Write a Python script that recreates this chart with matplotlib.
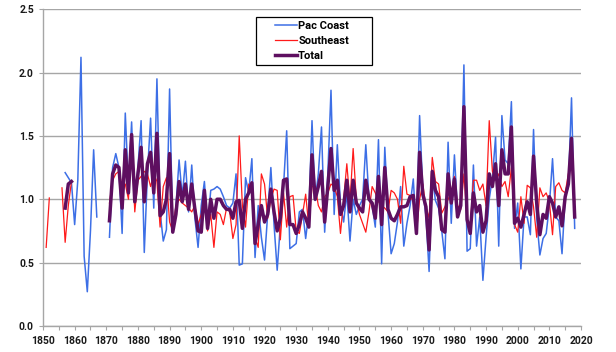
import numpy as np
import matplotlib
matplotlib.use("Agg")
import matplotlib.pyplot as plt
from matplotlib.patches import Rectangle
from matplotlib.ticker import MultipleLocator, FormatStrFormatter

nan = np.nan

# years 1850..2018
years = np.arange(1850, 2019)

pac_coast = [
    nan, nan, nan, nan, nan, nan, nan, 1.21, 1.17, 1.13,            # 1850s
    0.80, 1.15, 2.12, 0.55, 0.27, 0.75, 1.39, 0.86, nan, nan,       # 1860s
    nan, 0.70, 1.25, 1.36, 1.25, 0.73, 1.68, 1.10, 1.61, 0.95,      # 1870s
    1.25, 1.62, 0.58, 1.20, 1.64, 0.93, 1.95, 0.90, 0.67, 0.76,     # 1880s
    1.87, 0.74, 0.94, 1.31, 1.02, 1.30, 0.90, 1.27, 0.85, 0.62,     # 1890s
    0.95, 1.14, 0.78, 1.07, 1.08, 1.10, 1.08, 1.02, 0.95, 0.93,     # 1900s
    0.97, 1.20, 0.48, 0.49, 1.17, 1.05, 1.32, 0.54, 0.95, 0.70,     # 1910s
    0.52, 0.88, 1.25, 0.80, 0.44, 0.80, 1.10, 1.54, 0.61, 0.63,     # 1920s
    0.65, 0.90, 0.92, 0.69, 0.90, 1.62, 0.99, 1.20, 1.57, 0.74,     # 1930s
    1.20, 1.86, 0.88, 1.43, 0.95, 0.82, 1.05, 0.67, 1.00, 0.88,     # 1940s
    0.95, 1.00, 1.43, 1.00, 0.95, 0.78, 1.47, 0.49, 1.41, 0.90,     # 1950s
    0.57, 0.65, 0.82, 1.10, 0.63, 0.81, 0.95, 1.16, 0.73, 1.66,     # 1960s
    1.07, 0.87, 0.43, 1.18, 0.99, 0.93, 0.75, 0.53, 1.45, 0.81,     # 1970s
    1.35, 0.90, 0.95, 2.06, 0.59, 0.61, 1.27, 0.63, 0.86, 0.36,     # 1980s
    0.70, 1.00, 1.17, 1.49, 0.63, 1.66, 1.31, 1.28, 1.77, 0.77,     # 1990s
    0.97, 0.45, 0.86, 0.86, 0.72, 1.55, 0.85, 0.56, 0.69, 0.73,     # 2000s
    0.95, 1.32, 0.86, 0.83, 0.57, 1.02, 1.10, 1.80, 0.77,           # 2010s
]

southeast = [
    nan, 0.62, 1.01, nan, nan, nan, 1.09, 0.66, 0.95, 1.14,
    nan, nan, nan, nan, nan, nan, nan, nan, nan, nan,
    nan, 0.97, 1.15, 1.20, 1.22, 1.10, 1.12, 1.00, 1.45, 0.90,
    1.15, 1.18, 1.22, 1.20, 1.10, 1.20, 1.14, 0.78, 1.10, 1.17,
    0.82, 0.75, 0.95, 1.00, 0.97, 0.95, 0.93, 0.90, 0.95, 0.80,
    0.88, 1.05, 0.75, 0.88, 0.62, 0.90, 0.88, 0.80, 0.93, 0.90,
    0.69, 0.80, 1.50, 0.95, 0.78, 1.12, 1.05, 0.70, 0.62, 1.20,
    1.12, 0.85, 1.00, 1.08, 1.07, 0.68, 1.05, 0.78, 1.02, 1.03,
    0.75, 0.73, 0.88, 1.04, 0.78, 1.10, 1.10, 0.95, 0.90, 1.02,
    1.05, 1.12, 1.10, 1.02, 0.73, 1.00, 1.28, 0.98, 1.40, 1.00,
    0.88, 0.81, 0.74, 0.90, 1.10, 1.05, 0.98, 0.95, 0.93, 0.90,
    1.07, 1.05, 1.00, 0.81, 1.26, 1.04, 1.03, 0.98, 0.73, 1.00,
    1.12, 0.94, 0.85, 1.33, 1.14, 1.12, 0.89, 0.94, 1.00, 1.05,
    1.18, 0.95, 0.92, 1.20, 0.84, 0.78, 1.15, 1.15, 1.07, 1.12,
    0.95, 1.62, 1.22, 1.15, 1.20, 1.10, 1.14, 1.02, 1.25, 0.80,
    0.74, 1.02, 0.81, 1.11, 1.09, 0.94, 0.70, 1.09, 1.02, 1.05,
    0.98, 0.72, 1.10, 1.13, 1.07, 1.05, 1.20, 1.29, 0.98,
]

total = [
    nan, nan, nan, nan, nan, nan, nan, 0.93, 1.12, 1.14,
    nan, nan, nan, nan, nan, nan, nan, nan, nan, nan,
    nan, 0.83, 1.20, 1.27, 1.25, 0.93, 1.39, 1.05, 1.51, 0.98,
    1.20, 1.41, 0.98, 1.28, 1.37, 1.05, 1.52, 0.87, 0.90, 1.00,
    1.36, 0.74, 0.88, 1.14, 0.98, 1.12, 0.92, 1.12, 0.92, 0.75,
    0.74, 1.07, 0.77, 1.00, 0.85, 1.00, 1.00, 0.95, 0.92, 0.92,
    0.85, 0.98, 0.99, 0.77, 1.00, 1.05, 1.13, 0.65, 0.80, 0.95,
    0.82, 0.88, 1.08, 0.90, 0.75, 0.85, 1.15, 1.16, 0.80, 0.80,
    0.73, 0.80, 0.90, 0.85, 0.78, 1.35, 1.00, 1.10, 1.22, 0.82,
    1.10, 1.40, 1.07, 1.15, 0.88, 0.95, 1.15, 0.90, 1.15, 0.97,
    0.93, 0.90, 1.15, 1.00, 0.97, 0.85, 1.18, 0.80, 1.25, 0.92,
    0.85, 0.83, 0.88, 0.94, 0.94, 0.95, 1.02, 1.03, 0.73, 1.37,
    1.04, 0.94, 0.60, 1.22, 1.07, 1.02, 0.76, 0.74, 1.20, 0.97,
    1.16, 0.86, 0.95, 1.73, 0.84, 0.73, 1.05, 0.90, 0.95, 0.74,
    0.83, 1.20, 1.10, 1.28, 0.95, 1.39, 1.20, 1.20, 1.57, 0.81,
    0.85, 0.78, 0.88, 0.98, 0.88, 1.34, 0.97, 0.72, 0.88, 0.85,
    1.02, 0.97, 0.86, 0.94, 0.79, 1.02, 1.12, 1.48, 0.86,
]

grey = "#a6a6a6"
plt.rcParams["font.family"] = ["Roboto", "DejaVu Sans"]

fig = plt.figure(figsize=(6.16, 3.52), dpi=100)
ax = fig.add_axes([0.0698, 0.074, 0.8734, 0.9])

ax.plot(years, pac_coast, color="#3d6fe6", lw=1.1, label="Pac Coast")
ax.plot(years, southeast, color="#ff1a1a", lw=0.9, label="Southeast")
ax.plot(years, total, color="#5e0f60", lw=2.5, label="Total")

ax.set_xlim(1850, 2020)
ax.set_ylim(0, 2.5)
ax.xaxis.set_major_locator(MultipleLocator(10))
ax.xaxis.set_minor_locator(MultipleLocator(5))
ax.yaxis.set_major_locator(MultipleLocator(0.5))
ax.yaxis.set_major_formatter(FormatStrFormatter("%.1f"))

ax.grid(axis="y", color=grey, lw=1)
ax.set_axisbelow(True)
for s in ["top", "right"]:
    ax.spines[s].set_visible(False)
for s in ["left", "bottom"]:
    ax.spines[s].set_color(grey)
    ax.spines[s].set_linewidth(1)

ax.tick_params(axis="both", which="both", color=grey, length=3, width=0.8)
ax.tick_params(axis="x", which="major", pad=4)
for lab in ax.get_xticklabels() + ax.get_yticklabels():
    lab.set_fontweight("bold")
    lab.set_fontsize(7.5)
    lab.set_color("#1a1a1a")

# legend box drawn like the original (wide left padding)
ax.add_patch(Rectangle((0.396, 0.823), 0.2155, 0.152, transform=ax.transAxes,
                       facecolor="white", edgecolor="black", lw=0.9, zorder=4))
leg = ax.legend(loc="upper left", bbox_to_anchor=(0.432, 0.962), frameon=False,
                handlelength=1.9, handletextpad=0.15, borderpad=0, borderaxespad=0,
                labelspacing=0.45, prop={"weight": "bold", "size": 8})
leg.set_zorder(5)

fig.savefig("out.png", dpi=100)
